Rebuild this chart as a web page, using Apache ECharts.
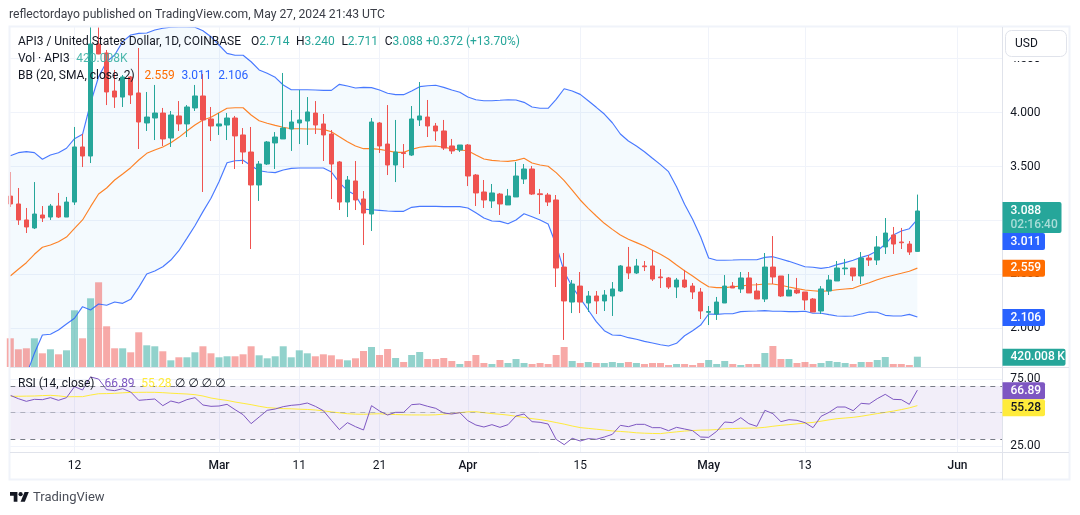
<!DOCTYPE html>
<html>
<head>
<meta charset="utf-8">
<title>API3 / USD daily</title>
<script src="https://cdn.jsdelivr.net/npm/echarts@6/dist/echarts.min.js"></script>
<style>html,body{margin:0;padding:0;background:#fff}#chart{width:1080px;height:515px}</style>
</head>
<body>
<div id="chart"></div>
<script>
// Daily sessions run from 4 Feb 2024 to 27 May 2024.
const firstDay = '2024-02-04';
const tickDays = ['2024-02-12','2024-03-01','2024-03-11','2024-03-21','2024-04-01','2024-04-15','2024-05-01','2024-05-13','2024-06-01'];
const tickLabels = ['12','Mar','11','21','Apr','15','May','13','Jun'];
const priceTicks = [2, 2.5, 3, 3.5, 4, 4.5];
const rsiTicks = [25, 50, 75];
const changeText = '+0.372 (+13.70%)';

const opens = [3.226,3.153,3.005,2.931,3.051,3.032,3.134,3.032,3.171,3.681,3.597,4.634,4.551,4.199,4.143,4.329,4.181,3.903,3.949,3.995,3.764,3.968,3.894,4.042,4.153,3.940,3.875,3.884,3.949,3.792,3.634,3.329,3.523,3.718,3.755,3.847,3.903,3.921,3.995,3.894,3.801,3.542,3.171,3.366,3.199,3.060,3.903,3.708,3.514,3.628,3.606,3.931,3.958,3.875,3.829,3.690,3.653,3.699,3.421,3.264,3.181,3.245,3.144,3.218,3.384,3.477,3.247,3.236,3.190,2.569,2.245,2.393,2.236,2.301,2.255,2.301,2.347,2.569,2.514,2.579,2.579,2.477,2.468,2.384,2.449,2.393,2.338,2.150,2.134,2.236,2.393,2.366,2.468,2.347,2.273,2.569,2.486,2.301,2.356,2.338,2.273,2.162,2.347,2.440,2.553,2.560,2.486,2.653,2.634,2.755,2.866,2.801,2.782,2.714];
const closes = [3.153,3.005,2.940,3.060,3.023,3.134,3.032,3.171,3.681,3.597,4.634,4.542,4.190,4.143,4.329,4.162,3.912,3.958,3.995,3.755,3.977,3.894,4.051,4.153,3.931,3.875,3.894,3.949,3.783,3.634,3.329,3.523,3.727,3.773,3.856,3.912,3.931,4.005,3.884,3.792,3.523,3.171,3.375,3.190,3.069,3.912,3.690,3.514,3.634,3.620,3.940,3.968,3.875,3.829,3.671,3.644,3.699,3.412,3.255,3.190,3.255,3.153,3.227,3.412,3.477,3.245,3.240,3.171,2.560,2.255,2.412,2.245,2.301,2.255,2.310,2.366,2.579,2.514,2.579,2.572,2.458,2.470,2.384,2.449,2.384,2.338,2.162,2.157,2.245,2.393,2.375,2.468,2.329,2.273,2.569,2.477,2.301,2.356,2.329,2.264,2.153,2.366,2.449,2.560,2.560,2.486,2.653,2.634,2.755,2.884,2.782,2.794,2.708,3.088];
const lows = [3.125,2.959,2.884,2.921,2.986,3.005,3.023,3.032,3.144,3.495,3.532,4.54,4.069,4.042,4.051,4.079,3.662,3.829,3.745,3.690,3.681,3.829,3.773,4.014,3.264,3.736,3.792,3.745,3.477,3.523,2.736,3.181,3.514,3.477,3.755,3.644,3.708,3.699,3.801,3.551,3.199,3.097,3.032,3.097,2.773,2.903,3.625,3.421,3.356,3.486,3.597,3.875,3.773,3.736,3.653,3.616,3.634,3.319,3.134,3.116,3.116,3.051,3.144,3.218,3.338,3.236,3.060,3.134,2.384,1.894,2.143,2.143,2.153,2.134,2.162,2.116,2.338,2.458,2.505,2.532,2.440,2.375,2.366,2.282,2.375,2.273,2.088,2.032,2.079,2.236,2.375,2.329,2.329,2.273,2.245,2.412,2.292,2.301,2.319,2.171,2.153,2.134,2.310,2.440,2.495,2.440,2.412,2.579,2.588,2.690,2.690,2.736,2.681,2.711];
const highs = [3.449,3.301,3.116,3.356,3.134,3.153,3.255,3.218,3.866,3.801,4.792,4.79,4.579,4.394,4.347,4.338,4.597,4.190,4.255,4.042,4.014,4.106,4.069,4.255,4.356,4.051,3.995,3.995,3.968,3.856,3.866,3.551,3.736,3.819,4.366,4.023,4.208,4.143,4.106,3.986,3.838,3.551,3.412,3.551,3.273,3.949,3.912,4.069,3.931,3.708,4.060,4.282,4.116,3.903,3.931,3.755,3.699,3.708,3.430,3.375,3.338,3.255,3.292,3.542,3.523,3.505,3.292,3.255,3.236,2.699,2.449,2.523,2.347,2.347,2.356,2.430,2.588,2.755,2.644,2.625,2.727,2.551,2.477,2.468,2.542,2.421,2.375,2.208,2.292,2.495,2.430,2.523,2.523,2.421,2.699,2.856,2.486,2.505,2.468,2.338,2.282,2.393,2.495,2.625,2.644,2.560,2.708,2.681,2.856,3.023,2.940,2.931,2.810,3.240];

// Volume in thousands of API3.
const volumes = [1171,722,763,1171,559,722,518,681,2313,1171,2803,3456,1661,763,763,600,1416,885,845,641,273,396,396,600,845,559,396,437,437,518,845,477,355,437,845,396,681,559,437,518,477,314,273,355,653,816,490,734,367,204,490,612,326,326,367,245,122,245,490,163,122,286,163,326,163,122,163,122,490,816,245,163,204,163,163,204,163,204,163,122,163,163,82,122,122,82,163,286,122,245,122,82,122,122,571,857,326,326,163,204,122,163,245,204,163,122,204,204,286,408,122,122,82,420.008];

// Bollinger Bands (20, SMA, close, 2).
const bbUpper = [3.600,3.628,3.638,3.628,3.567,3.606,3.628,3.669,3.757,3.798,4.088,4.331,4.470,4.532,4.656,4.718,4.733,4.736,4.764,4.780,4.789,4.792,4.792,4.789,4.757,4.702,4.625,4.548,4.530,4.530,4.470,4.394,4.363,4.326,4.255,4.211,4.211,4.211,4.208,4.205,4.205,4.261,4.245,4.227,4.233,4.230,4.208,4.178,4.165,4.165,4.199,4.239,4.248,4.252,4.233,4.208,4.187,4.143,4.118,4.109,4.109,4.113,4.118,4.116,4.094,4.051,4.039,4.039,4.122,4.220,4.199,4.168,4.109,4.048,3.986,3.905,3.801,3.736,3.690,3.637,3.576,3.517,3.452,3.313,3.150,3.011,2.850,2.653,2.632,2.632,2.634,2.637,2.637,2.637,2.659,2.665,2.644,2.622,2.597,2.572,2.567,2.557,2.567,2.591,2.610,2.632,2.659,2.681,2.720,2.780,2.866,2.903,2.924,3.011];
const bbMiddle = [2.486,2.548,2.609,2.687,2.752,2.773,2.804,2.847,2.928,3.005,3.128,3.245,3.301,3.375,3.431,3.489,3.560,3.622,3.653,3.681,3.720,3.770,3.829,3.884,3.931,3.956,3.998,4.039,4.044,4.044,3.977,3.924,3.900,3.881,3.863,3.850,3.850,3.847,3.847,3.844,3.822,3.776,3.730,3.690,3.665,3.665,3.659,3.646,3.631,3.631,3.659,3.678,3.687,3.690,3.678,3.665,3.653,3.646,3.606,3.569,3.557,3.551,3.548,3.557,3.576,3.532,3.514,3.502,3.443,3.369,3.282,3.190,3.113,3.042,2.974,2.918,2.866,2.826,2.795,2.764,2.724,2.687,2.644,2.588,2.535,2.486,2.433,2.387,2.378,2.378,2.387,2.393,2.403,2.405,2.412,2.412,2.400,2.384,2.369,2.356,2.350,2.344,2.350,2.359,2.366,2.372,2.400,2.424,2.452,2.474,2.493,2.511,2.530,2.559];
const bbLower = [1.384,1.477,1.569,1.770,1.940,1.947,1.986,2.042,2.095,2.202,2.171,2.227,2.215,2.245,2.233,2.270,2.381,2.505,2.532,2.572,2.634,2.720,2.835,2.952,3.082,3.206,3.359,3.535,3.553,3.557,3.507,3.461,3.449,3.443,3.468,3.483,3.486,3.486,3.486,3.486,3.449,3.350,3.276,3.236,3.106,3.100,3.094,3.088,3.085,3.085,3.122,3.131,3.131,3.131,3.128,3.128,3.128,3.116,3.072,3.023,2.995,2.992,2.970,3.005,3.063,3.035,3.005,2.968,2.773,2.526,2.387,2.279,2.171,2.063,1.980,1.940,1.937,1.915,1.900,1.881,1.866,1.850,1.838,1.863,1.933,1.980,2.032,2.134,2.131,2.137,2.137,2.156,2.160,2.162,2.165,2.160,2.160,2.156,2.156,2.160,2.141,2.141,2.128,2.116,2.113,2.116,2.134,2.153,2.150,2.122,2.116,2.116,2.131,2.106];

// RSI (14, close) and its moving average.
const rsi = [63,60.5,58.5,60,59.75,61.25,59.25,61.25,69.5,67,76.75,75.25,67.25,66.5,68,65.5,59.25,59.75,60.25,55.25,58.75,57.25,59.75,61.25,55.75,54.75,55,56.25,52.25,48.5,41.75,46.75,51.75,52.75,54.5,55.5,56,57.25,54.75,51.5,44.25,37.25,42.5,39.5,37,55.25,51.25,48.25,50.25,50.25,56,56.5,54.75,53.25,49.75,49,50,44,40.75,39.25,41,39,41,47.5,49,43.25,42.75,41.5,30,26,30.75,28.75,30.5,30,31.75,33.75,40.5,39.5,41.25,41.25,38.75,38.75,36.5,39,37.75,36.5,31.75,31.5,36,43,42.5,46.25,41.75,39.75,51.75,49.25,43.25,44.75,44.25,42.5,38.75,47.25,50.25,54.25,54.25,51.5,57,56.5,60.5,63.75,60,59.75,56.25,66.89];
const rsiAverage = [62.25,62.3,62.4,62.5,62.8,63,62.6,61.9,62,62,63.2,64.2,64.3,64.5,64.9,65.2,65.25,65.3,65.25,65,64.6,64.3,64,63.5,62.5,61,60,59.2,58,57,56,54.8,53.8,53.4,53,52.9,52.6,52.4,52,51.4,50.6,49.9,49.2,48.9,48.8,49,49.2,48.8,48.6,48.4,48.3,48.3,48.25,48.4,48.9,49.3,50,50.6,50.7,50,49.3,48.8,48.2,47.3,46.4,45.5,44.8,43.8,42.6,41.4,40,38.8,38.2,37.6,37,36.3,35.9,35.5,34.9,34.6,34.4,34.3,35,35.6,36.2,36.6,36.9,37,37.3,37.9,38.1,38.3,38.4,38.5,39,39.8,40.5,41,41.6,42.2,42.7,43.6,44.6,45.5,46,46.5,47.3,48.3,49.3,50.2,51.2,52.3,53.6,55.28];

const DAY = 86400000;
const UP = '#26a69a', DOWN = '#ef5350', BLUE = '#2962ff', ORANGE = '#ff6d00', PURPLE = '#7e57c2', YELLOW = '#ffeb3b';
const INK = '#131722', GRID = '#f0f3fa', EDGE = '#e0e3eb';
const FONT = 'Roboto, sans-serif';

// The x scale counts days from the first session, so gaps stay uniform.
const startTs = Date.parse(firstDay);
const days = opens.map((_, i) => i);
const tickStamps = tickDays.map(d => (Date.parse(d) - startTs) / DAY);
const xRange = { min: 0, max: 123.58 };
const last = a => a[a.length - 1];
const zipDays = a => a.map((v, i) => [days[i], v]);

const chart = echarts.init(document.getElementById('chart'), null, { renderer: 'canvas' });

function timeAxis(gridIndex, showLabels) {
  return {
    type: 'value', gridIndex, ...xRange,
    axisLine: { show: false },
    axisTick: { show: false, customValues: tickStamps },
    splitLine: { show: true, lineStyle: { color: GRID, width: 1 } },
    axisLabel: {
      show: showLabels, customValues: tickStamps, margin: 8, hideOverlap: false,
      fontFamily: FONT, fontSize: 12, color: INK,
      formatter: v => {
        const t = tickLabels[tickStamps.indexOf(v)];
        return /^\d/.test(t) ? t : '{m|' + t + '}';
      },
      rich: { m: { fontFamily: FONT, fontSize: 12, fontWeight: 500, color: INK } }
    }
  };
}

function valueAxis(gridIndex, min, max, ticks, digits) {
  return {
    type: 'value', gridIndex, position: 'right', min, max, scale: true,
    axisLine: { show: false },
    axisTick: { show: false, customValues: ticks },
    splitLine: { show: true, lineStyle: { color: GRID, width: 1 } },
    axisLabel: {
      customValues: ticks, inside: false, margin: 8, fontFamily: FONT, fontSize: 12, color: INK,
      formatter: v => v.toFixed(digits)
    }
  };
}

// Filled channel between the outer Bollinger Bands.
function renderBandFill(params, api) {
  const upper = days.map(i => api.coord([i, bbUpper[i]]));
  const lower = days.map(i => api.coord([i, bbLower[i]])).reverse();
  return {
    type: 'polygon', silent: true,
    shape: { points: upper.concat(lower) },
    style: { fill: 'rgba(33,150,243,0.05)' }
  };
}

chart.setOption({
  animation: false,
  backgroundColor: '#ffffff',
  grid: [
    { left: 10.3, right: 77.7, top: 27, height: 340 },
    { left: 10.3, right: 77.7, top: 368, height: 84 }
  ],
  xAxis: [timeAxis(0, false), timeAxis(1, true)],
  yAxis: [
    valueAxis(0, 1.6435, 4.7917, priceTicks, 3),
    { type: 'value', gridIndex: 0, show: false, min: 0, max: 13872, splitLine: { show: false } },
    valueAxis(1, 20.5, 83.5, rsiTicks, 2)
  ],
  series: [
    {
      name: 'BB fill', type: 'custom', xAxisIndex: 0, yAxisIndex: 0, z: 1, clip: true, silent: true,
      renderItem: renderBandFill, data: [[days[0], bbMiddle[0]]], encode: { x: 0, y: 1 }
    },
    {
      name: 'Volume', type: 'bar', xAxisIndex: 0, yAxisIndex: 1, barWidth: 7, z: 2,
      data: volumes.map((v, i) => ({
        value: [days[i], v],
        itemStyle: { color: closes[i] >= opens[i] ? UP : DOWN, opacity: 0.5 }
      }))
    },
    ...[[bbUpper, BLUE], [bbLower, BLUE], [bbMiddle, ORANGE]].map(([values, color]) => ({
      type: 'line', xAxisIndex: 0, yAxisIndex: 0, z: 3, symbol: 'none', data: zipDays(values),
      lineStyle: { color, width: 1.15, opacity: 0.85 }
    })),
    {
      name: 'API3', type: 'candlestick', xAxisIndex: 0, yAxisIndex: 0, z: 4, barWidth: 5,
      encode: { x: 0, y: [1, 2, 3, 4] },
      itemStyle: { color: UP, color0: DOWN, borderColor: UP, borderColor0: DOWN, borderWidth: 1 },
      data: days.map((d, i) => [d, opens[i], closes[i], lows[i], highs[i]])
    },
    {
      name: 'RSI', type: 'line', xAxisIndex: 1, yAxisIndex: 2, z: 4, symbol: 'none', data: zipDays(rsi),
      lineStyle: { color: PURPLE, width: 1 },
      markArea: {
        silent: true, z: 1, itemStyle: { color: 'rgba(126,87,194,0.1)' },
        data: [[{ yAxis: 70 }, { yAxis: 30 }]]
      },
      markLine: {
        silent: true, symbol: 'none', label: { show: false },
        lineStyle: { color: '#787b86', type: [5, 5], width: 1 },
        data: [
          { yAxis: 70 }, { yAxis: 30 },
          { yAxis: 50, lineStyle: { color: '#787b86', opacity: 0.5, type: [5, 5], width: 1 } }
        ]
      }
    },
    {
      name: 'RSI average', type: 'line', xAxisIndex: 1, yAxisIndex: 2, z: 3, symbol: 'none',
      data: zipDays(rsiAverage), lineStyle: { color: YELLOW, width: 1 }
    }
  ]
});

// Price scale tags are placed from the same axes the series use.
const priceY = v => chart.convertToPixel({ yAxisIndex: 0 }, v);
const volumeY = v => chart.convertToPixel({ yAxisIndex: 1 }, v);

const TAG_X = 1002.5;
function tag(centerY, label, fill, width, ink) {
  return [
    { type: 'rect', z: 60, shape: { x: TAG_X, y: centerY - 8.5, width, height: 17, r: [0, 2, 2, 0] }, style: { fill } },
    { type: 'text', z: 61, style: { x: TAG_X + 8, y: centerY, text: label, fill: ink || '#fff', font: '500 12px ' + FONT, verticalAlign: 'middle' } }
  ];
}
function line(x1, y1, x2, y2, stroke) {
  return { type: 'line', z: 50, shape: { x1, y1, x2, y2 }, style: { stroke, lineWidth: 1 } };
}
function note(x, y, text, fill, font) {
  return { type: 'text', z: 70, style: { x, y, text, fill: fill || INK, font: font || '12px ' + FONT, verticalAlign: 'middle' } };
}
const closeY = priceY(last(closes));

// Footer logotype: bar, slash and dot on a 0.53 px unit.
const logoAt = pts => pts.map(([x, y]) => [10 + x * 0.53, 490 + y * 0.53]);

chart.setOption({
  graphic: { elements: [
    // Chart frame, pane separators and scale border
    { type: 'rect', z: 49, shape: { x: 9.5, y: 26.5, width: 1060, height: 453 }, style: { fill: 'none', stroke: GRID, lineWidth: 2 } },
    line(10, 367.5, 1069, 367.5, EDGE),
    line(10, 452.5, 1069, 452.5, EDGE),
    line(1002.5, 27, 1002.5, 480, EDGE),

    // Currency selector sits on a white strip at the head of the scale
    { type: 'rect', z: 54, shape: { x: 1003, y: 28, width: 65, height: 33 }, style: { fill: '#fff' } },
    { type: 'rect', z: 55, shape: { x: 1005.5, y: 30.5, width: 61, height: 26, r: 6 }, style: { fill: '#fff', stroke: EDGE, lineWidth: 1 } },
    note(1015, 44, 'USD'),

    // Header and legend rows
    note(9, 15, 'reflectordayo published on TradingView.com, May 27, 2024 21:43 UTC', '#3b3e47', '12.15px ' + FONT),
    {
      type: 'text', z: 70,
      style: {
        x: 18, y: 41.5, verticalAlign: 'middle',
        text: '{k|API3 / United States Dollar, 1D, COINBASE}   {k|O}{v|' + last(opens).toFixed(3) + '}  {k|H}{v|' + last(highs).toFixed(3) +
          '}  {k|L}{v|' + last(lows).toFixed(3) + '}  {k|C}{v|' + last(closes).toFixed(3) + '} {v|' + changeText + '}',
        rich: {
          k: { fill: INK, font: '12px ' + FONT },
          v: { fill: UP, font: '12px ' + FONT }
        }
      }
    },
    {
      type: 'text', z: 70,
      style: {
        x: 18, y: 59, verticalAlign: 'middle',
        text: '{k|Vol · API3}  {v|' + last(volumes).toFixed(3) + 'K}',
        rich: { k: { fill: INK, font: '12px ' + FONT }, v: { fill: '#4db8ad', font: '12px ' + FONT } }
      }
    },
    {
      type: 'text', z: 70,
      style: {
        x: 18, y: 76, verticalAlign: 'middle',
        text: '{k|BB (20, SMA, close, 2)}   {o|' + last(bbMiddle).toFixed(3) + '}  {b|' + last(bbUpper).toFixed(3) + '}  {b|' + last(bbLower).toFixed(3) + '}',
        rich: { k: { fill: INK, font: '12px ' + FONT }, o: { fill: ORANGE, font: '12px ' + FONT }, b: { fill: BLUE, font: '12px ' + FONT } }
      }
    },
    {
      type: 'text', z: 70,
      style: {
        x: 18, y: 384, verticalAlign: 'middle',
        text: '{k|RSI (14, close)}   {p|' + last(rsi).toFixed(2) + '}  {y|' + last(rsiAverage).toFixed(2) + '} {k|∅ ∅ ∅ ∅}',
        rich: { k: { fill: INK, font: '12px ' + FONT + ', "DejaVu Sans"' }, p: { fill: PURPLE, font: '12px ' + FONT }, y: { fill: YELLOW, font: '12px ' + FONT } }
      }
    },

    // Last-value tags on the scales
    ...tag(317.5, last(bbLower).toFixed(3), BLUE, 42.5),
    ...tag(priceY(last(bbMiddle)), last(bbMiddle).toFixed(3), ORANGE, 42.5),
    ...tag(241.5, last(bbUpper).toFixed(3), BLUE, 42.5),
    { type: 'rect', z: 60, shape: { x: TAG_X, y: closeY - 9, width: 59, height: 31, r: [0, 2, 2, 0] }, style: { fill: UP } },
    { type: 'text', z: 61, style: { x: TAG_X + 8, y: closeY, text: last(closes).toFixed(3), fill: '#fff', font: '500 12px ' + FONT, verticalAlign: 'middle' } },
    { type: 'text', z: 61, style: { x: TAG_X + 8, y: closeY + 14, text: '02:16:40', fill: '#a8ddd8', font: '500 12px ' + FONT, verticalAlign: 'middle' } },
    ...tag(volumeY(last(volumes)) + 0.5, last(volumes).toFixed(3) + '\u2009K', UP, 63),
    ...tag(390.7, last(rsi).toFixed(2), PURPLE, 42.5),
    ...tag(407.7, last(rsiAverage).toFixed(2), YELLOW, 42.5, INK),

    // Footer mark
    { type: 'polygon', z: 70, shape: { points: logoAt([[14,22],[7,22],[7,11],[0,11],[0,4],[14,4]]) }, style: { fill: INK } },
    { type: 'polygon', z: 70, shape: { points: logoAt([[28,22],[20,22],[27.5,4],[35.5,4]]) }, style: { fill: INK } },
    { type: 'circle', z: 70, shape: { cx: 20.6, cy: 494.2, r: 2.1 }, style: { fill: INK } },
    note(33, 497.5, 'TradingView', '#4a4e58', '13px ' + FONT)
  ] }
});
</script>
</body>
</html>
